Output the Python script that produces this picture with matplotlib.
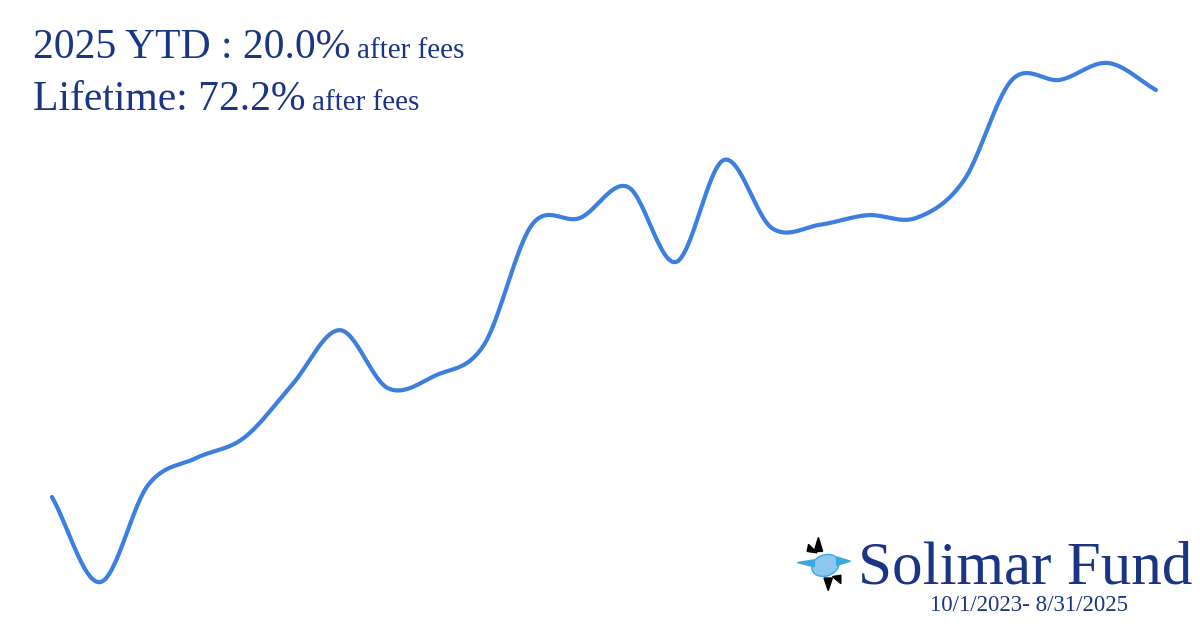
import matplotlib
matplotlib.use("Agg")
import matplotlib.pyplot as plt
from matplotlib.patches import Ellipse, Polygon
import numpy as np

# month-end growth of 100, 10/2023 - 8/2025
months = ["Oct-23", "Nov-23", "Dec-23", "Jan-24", "Feb-24", "Mar-24", "Apr-24", "May-24",
          "Jun-24", "Jul-24", "Aug-24", "Sep-24", "Oct-24", "Nov-24", "Dec-24", "Jan-25",
          "Feb-25", "Mar-25", "Apr-25", "May-25", "Jun-25", "Jul-25", "Aug-25", "Sep-25"]
values = [100.0, 84.9, 102.1, 106.9, 110.5, 119.9, 129.6, 119.3, 121.6, 127.0, 148.3, 149.5,
          155.0, 141.7, 159.8, 147.7, 148.3, 150.0, 149.5, 156.2, 174.0, 174.0, 177.0, 172.2]

line_color = "#3c7fdf"
navy = "#1b3585"


def catmull_rom(y, n=30):
    # smooth curve through the points (like a tension-0.5 line)
    y = np.asarray(y, float)
    p = np.concatenate([[2 * y[0] - y[1]], y, [2 * y[-1] - y[-2]]])
    xs, ys = [], []
    t = np.linspace(0, 1, n, endpoint=False)
    for i in range(len(y) - 1):
        p0, p1, p2, p3 = p[i], p[i + 1], p[i + 2], p[i + 3]
        seg = 0.5 * ((2 * p1) + (-p0 + p2) * t + (2 * p0 - 5 * p1 + 4 * p2 - p3) * t ** 2
                     + (-p0 + 3 * p1 - 3 * p2 + p3) * t ** 3)
        xs.append(i + t)
        ys.append(seg)
    xs.append([len(y) - 1])
    ys.append([y[-1]])
    return np.concatenate(xs), np.concatenate(ys)


fig = plt.figure(figsize=(12, 6.3), dpi=100)
ax = fig.add_axes([0, 0, 1, 1])
ax.axis("off")

sx, sy = catmull_rom(values)
ax.plot(sx, sy, color=line_color, lw=3, solid_capstyle="round")
ax.set_xlim(-1.083, 23.917)
ax.set_ylim(76.41, 188.17)

serif = ["Liberation Serif", "DejaVu Serif"]


def px(x, y):
    return x / 1200, 1 - y / 630


# header text, "after fees" placed right after each big label on the same baseline
for label, base in [("2025 YTD : 20.0%", 58), ("Lifetime: 72.2%", 110)]:
    t = fig.text(*px(33, base), label, fontsize=30, color=navy, family=serif, va="baseline")
    fig.add_artist(matplotlib.text.Annotation(
        "after fees", xy=(1, px(0, base)[1]), xycoords=(t, "figure fraction"),
        xytext=(5, 0), textcoords="offset points",
        fontsize=21, color=navy, family=serif, va="baseline"))

# logo
fig.text(*px(858, 583), "Solimar Fund", fontsize=44, color=navy, family=serif, va="baseline")
fig.text(*px(930, 611), "10/1/2023- 8/31/2025", fontsize=16.5, color=navy, family=serif, va="baseline")

lax = fig.add_axes([796 / 1200, 1 - 592 / 630, 56 / 1200, 56 / 630])
lax.set_xlim(-1, 1)
lax.set_ylim(-1, 1)
lax.axis("off")
lax.add_patch(Ellipse((0.05, -0.05), 1.0, 0.75, angle=20, color="#8cc8ee", ec="#3aa7e0", lw=1))
lax.add_patch(Polygon([[-0.95, 0.05], [-0.35, 0.15], [-0.35, -0.1]], color="#3aa7e0"))
lax.add_patch(Polygon([[0.95, 0.1], [0.45, 0.25], [0.45, -0.05]], color="#3aa7e0"))
lax.add_patch(Polygon([[-0.2, 0.95], [-0.05, 0.45], [-0.35, 0.45]], color="black"))
lax.add_patch(Polygon([[0.15, -0.95], [0.3, -0.5], [0.0, -0.5]], color="black"))
lax.add_patch(Polygon([[-0.55, 0.7], [-0.25, 0.4], [-0.6, 0.45]], color="black"))
lax.add_patch(Polygon([[0.6, -0.7], [0.3, -0.45], [0.6, -0.4]], color="black"))

fig.savefig("out.png", dpi=100)
